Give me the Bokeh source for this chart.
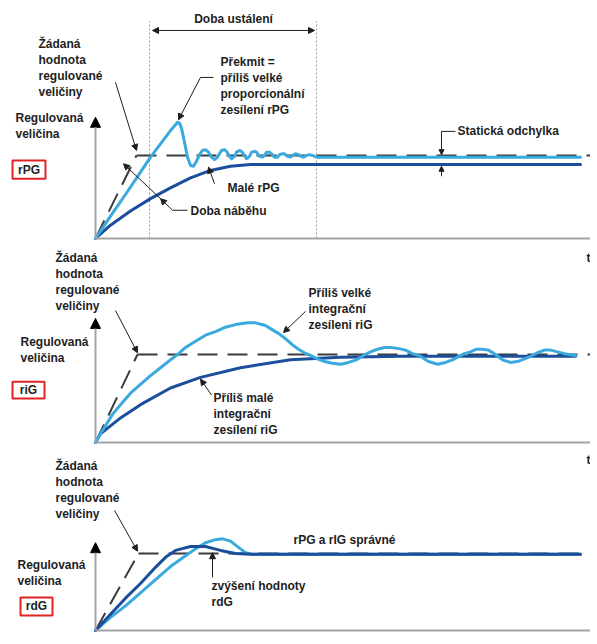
from bokeh.plotting import figure
from bokeh.models import Range1d, Arrow, NormalHead, Label, BoxAnnotation
from bokeh.embed import file_html
from bokeh.resources import INLINE

# ---------------- data: t = time from step (arb. units), v = % of set point ----------------
SETPOINT = 100

# Panel 1 - proportional gain rPG
p1_set_t = [41, 495]
p1_ramp_t = [0, 41]
p1_high_t = [0, 15, 30, 45, 55, 65, 75, 80, 82, 84, 86, 89, 92, 95, 98, 101, 104, 107, 110, 113,
             116, 119, 122, 124, 126, 129, 131, 134, 136, 139, 141, 144, 146, 149, 151, 154, 156, 159, 161, 164,
             167, 169, 171, 174, 176, 179, 182, 184, 187, 189, 192, 195, 197, 200, 203, 205, 208, 211, 214, 217,
             221, 485]
p1_high_v = [0, 27, 53, 80, 98, 114, 130, 137, 140, 139, 133, 116, 98, 88, 87, 93, 101, 106, 107, 104,
             98, 95, 98, 102, 106, 107, 105, 99, 96, 99, 104, 106, 105, 100, 96, 99, 104, 105, 104, 99,
             98, 100, 104, 104, 102, 98, 98, 101, 102, 102, 99, 98, 100, 102, 101, 99, 98, 100, 101, 100,
             98, 98]
p1_low_t = [0, 15, 35, 55, 75, 95, 115, 135, 155, 185, 485]
p1_low_v = [0, 16, 33, 48, 61, 73, 82, 87, 89, 89, 89]
p1_settle_t = [54, 221]

# Panel 2 - integral gain riG
p2_set_t = [42, 497]
p2_ramp_t = [0, 42]
p2_high_t = [0, 5, 10, 17, 25, 35, 45, 55, 65, 75, 82, 90, 100, 110, 120, 130, 140, 152, 160, 170, 177, 183,
             190, 197, 203, 209, 215, 222, 229, 237, 245, 253, 261, 268, 275, 282, 289, 295, 302, 310, 317, 325,
             333, 342, 350, 357, 362, 369, 375, 381, 387, 393, 400, 407, 415, 422, 429, 435, 442, 449, 455, 462,
             469, 480]
p2_high_v = [0, 10, 19, 32, 43, 56, 66, 76, 85, 94, 100, 108, 115, 122, 126, 131, 134, 136, 136, 133, 128, 124,
             118, 111, 106, 102, 99, 95, 92, 90, 89, 91, 94, 99, 103, 106, 108, 108, 107, 105, 101, 98,
             92, 89, 91, 94, 97, 101, 103, 106, 106, 105, 100, 94, 91, 92, 95, 98, 102, 105, 105, 103,
             101, 99]
p2_low_t = [0, 5, 15, 25, 45, 75, 105, 145, 195, 245, 305, 480]
p2_low_v = [0, 10, 19, 28, 43, 62, 74, 85, 94, 97, 98, 98]

# Panel 3 - derivative gain rdG
p3_set_t = [43, 485]
p3_ramp_t = [0, 43]
p3_light_t = [0, 15, 30, 45, 60, 75, 90, 100, 110, 120, 127, 135, 143, 150, 157, 485]
p3_light_v = [0, 17, 32, 49, 66, 83, 97, 106, 114, 118, 119, 116, 108, 101, 99, 99]
p3_dark_t = [0, 15, 30, 45, 60, 70, 80, 95, 110, 125, 140, 155, 485]
p3_dark_v = [0, 21, 42, 61, 82, 95, 104, 109, 109, 104, 100, 99, 99]

T_AXIS_END = 500

# ---------------- style ----------------
W, H = 590, 638
LIGHT = "#3aaade"
DARK = "#1b4f9c"
DASH = "#3b3b3b"
AXIS = "#a3a3a3"
RED = "#e02424"
INK = "#1e1e1e"
FONT = "Liberation Sans"

p = figure(width=W, height=H, output_backend="svg", toolbar_location=None,
           x_range=Range1d(-95, 495), y_range=Range1d(-481.9, 286.7),
           x_axis_location=None, y_axis_location=None, min_border=0,
           outline_line_color=None, background_fill_color="white")
p.extra_y_ranges = {"p2": Range1d(-222.7, 502.3), "p3": Range1d(-10.4, 818.2)}
p.xgrid.visible = False
p.ygrid.visible = False


def head(size=6, color=INK):
    return NormalHead(size=size, fill_color=color, line_color=color, line_width=1)


def seg(x0, y0, x1, y1, rng, end=None, start=None, color=INK, width=1):
    p.add_layout(Arrow(x_start=x0, y_start=y0, x_end=x1, y_end=y1, end=end, start=start,
                       line_color=color, line_width=width, y_range_name=rng))


def label(text, x, y, rng, align="left", baseline="top"):
    p.add_layout(Label(x=x, y=y, text=text, y_range_name=rng, text_font=FONT,
                       text_font_size="12px", text_font_style="bold", text_color=INK,
                       text_align=align, text_baseline=baseline, text_line_height=1.14))


def box(text, l, r, b, t, rng):
    p.add_layout(BoxAnnotation(left=l, right=r, bottom=b, top=t, y_range_name=rng,
                               fill_alpha=0, line_color=RED, line_width=2, line_alpha=1))
    label(text, (l + r) / 2, (b + t) / 2, rng, align="center", baseline="middle")


def panel(rng, ramp_t, set_t, curves, y_top):
    # axes
    seg(0, 0, T_AXIS_END, 0, rng, color=AXIS, width=2)
    seg(0, 0, 0, y_top, rng, end=head(10, "black"), color=AXIS, width=2)
    # set point
    p.line(ramp_t, [0, SETPOINT], y_range_name=rng, line_color=DASH, line_width=2, line_dash="20 10")
    p.line(set_t, [SETPOINT, SETPOINT], y_range_name=rng, line_color=DASH, line_width=2, line_dash="20 10")
    for tt, vv, c in curves:
        p.line(tt, vv, y_range_name=rng, line_color=c, line_width=3, line_join="round", line_cap="round")


# ---------------- panel 1 ----------------
p.segment(x0=p1_settle_t, y0=[0, 0], x1=p1_settle_t, y1=[262, 262], line_color="#9a9a9a",
          line_width=1, line_dash="2 2")
panel("default", p1_ramp_t, p1_set_t, [(p1_low_t, p1_low_v, DARK), (p1_high_t, p1_high_v, LIGHT)], 146)
seg(57, 250.6, 219, 250.6, "default", end=head(6), start=head(6))
label("Doba ustálení", 138, 265, "default", align="center", baseline="middle")
label("Žádaná\nhodnota\nregulované\nveličiny", -57, 243, "default")
seg(20, 188, 41, 106, "default", end=head(6))
label("Regulovaná\nveličina", -80, 153, "default")
box("rPG", -83, -50, 72, 94, "default")
label("Překmit =\npříliš velké\nproporcionální\nzesílení  rPG", 125, 221, "default")
seg(118, 194, 105, 194, "default")
seg(105, 194, 83, 143, "default", end=head(6))
label("Malé rPG", 132, 61, "default", baseline="middle")
seg(119, 66, 113, 86, "default", end=head(6))
label("Doba náběhu", 95, 33, "default", baseline="middle")
seg(92, 34, 77, 34, "default")
seg(77, 34, 65, 48, "default", end=head(6))
seg(65, 48, 28, 90, "default", end=head(6))
label("Statická odchylka", 362, 130, "default", baseline="middle")
seg(360, 129, 346, 129, "default")
seg(346, 129, 346, 101, "default", end=head(5))
seg(346, 75, 346, 87, "default", end=head(5))
label("t", 495, -24, "default", align="right", baseline="middle")

# ---------------- panel 2 ----------------
panel("p2", p2_ramp_t, p2_set_t, [(p2_low_t, p2_low_v, DARK), (p2_high_t, p2_high_v, LIGHT)], 141)
label("Žádaná\nhodnota\nregulované\nveličiny", -40, 218, "p2")
seg(20, 150, 42, 102, "p2", end=head(6))
label("Regulovaná\nveličina", -75, 122, "p2")
box("riG", -83, -51, 50, 69, "p2")
label("Příliš malé\nintegrační\nzesílení riG", 118, 59, "p2")
seg(116, 54, 105, 72, "p2", end=head(6))
label("Příliš velké\nintegrační\nzesíleni riG", 213, 178, "p2")
seg(210, 149, 188, 125, "p2", end=head(6))
label("t", 495, -20, "p2", align="right", baseline="middle")

# ---------------- panel 3 ----------------
panel("p3", p3_ramp_t, p3_set_t, [(p3_light_t, p3_light_v, LIGHT), (p3_dark_t, p3_dark_v, DARK)], 114)
label("Žádaná\nhodnota\nregulované\nveličiny", -40, 223, "p3")
seg(19, 156, 42, 103, "p3", end=head(6))
label("Regulovaná\nveličina", -78, 94, "p3")
box("rdG", -75, -43, 19.5, 43, "p3")
label("zvýšení hodnoty\nrdG", 116, 67, "p3")
seg(117, 69, 117, 101, "p3", end=head(6))
label("rPG a rIG správné", 198, 117, "p3", baseline="middle")

open("out.html", "w").write(file_html(p, INLINE))
